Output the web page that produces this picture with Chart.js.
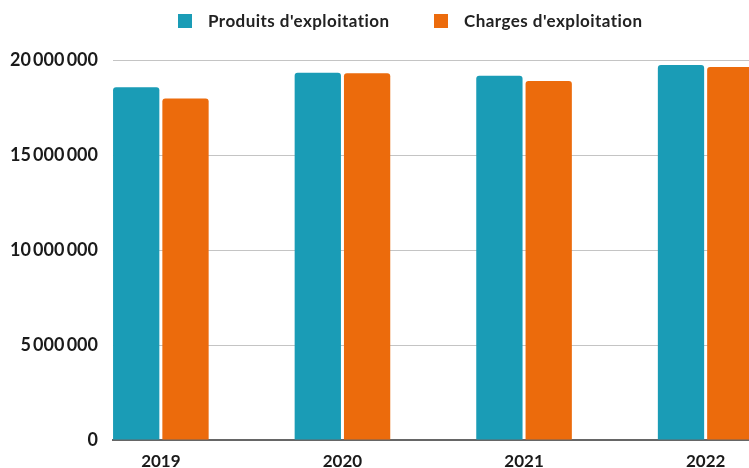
<!DOCTYPE html>
<html>
<head>
<meta charset="utf-8">
<script src="https://cdn.jsdelivr.net/npm/chart.js@4/dist/chart.umd.min.js"></script>
<style>
  html, body { margin: 0; padding: 0; background: #fff; }
  #wrap { position: relative; width: 749px; height: 468px; overflow: hidden; }
  #wrap canvas { display: block; }
  #legend { position: absolute; top: 0; left: 0; width: 749px; height: 40px; }
  .item { position: absolute; top: 10px; display: flex; align-items: center;
          font: bold 17px Lato, sans-serif; letter-spacing: 0.45px; color: #222; white-space: nowrap; }
  .swatch { width: 14px; height: 14px; margin-right: 16px; }
</style>
</head>
<body>
<div id="wrap">
  <canvas id="chart" width="749" height="468"></canvas>
  <div id="legend"></div>
</div>
<script>
// Years on the x axis
const years = ["2019", "2020", "2021", "2022"];

// Series values (euros)
const produits = [18560000, 19330000, 19170000, 19740000];
const charges = [17980000, 19300000, 18890000, 19630000];

const seriesNames = ["Produits d'exploitation", "Charges d'exploitation"];

// y axis ticks
const yTicks = [0, 5000000, 10000000, 15000000, 20000000];

const teal = "#1a9cb6";
const orange = "#ec6b0c";

function formatNumber(v) {
  return String(v).replace(/\B(?=(\d{3})+(?!\d))/g, "\u2009");
}

function toPoints(values) {
  return values.map((v, i) => ({ x: i, y: v }));
}

const ctx = document.getElementById("chart").getContext("2d");
const chart = new Chart(ctx, {
  type: "bar",
  data: {
    datasets: [
      {
        label: seriesNames[0],
        data: toPoints(produits),
        backgroundColor: teal,
        borderRadius: 3,
        categoryPercentage: 0.543,
        barPercentage: 0.939,
      },
      {
        label: seriesNames[1],
        data: toPoints(charges),
        backgroundColor: orange,
        borderRadius: 3,
        categoryPercentage: 0.543,
        barPercentage: 0.939,
      },
    ],
  },
  options: {
    responsive: false,
    animation: false,
    devicePixelRatio: 1,
    layout: { padding: { top: 60, right: 0, left: 0, bottom: 0 } },
    plugins: {
      legend: { display: false },
      tooltip: { enabled: false },
    },
    scales: {
      x: {
        type: "linear",
        offset: false,
        min: -0.2635,
        max: 3.2387,
        afterFit: (scale) => { scale.height = 28; },
        grid: { display: false, offset: false },
        border: { display: true, color: "#666666", width: 2 },
        ticks: {
          stepSize: 1,
          includeBounds: false,
          autoSkip: false,
          maxRotation: 0,
          padding: 3,
          color: "#1a1a1a",
          font: { family: "Lato", size: 17, weight: "bold" },
          callback: (v) => years[v] ?? "",
        },
      },
      y: {
        min: yTicks[0],
        max: yTicks[yTicks.length - 1],
        afterFit: (scale) => { scale.width = 113; },
        afterBuildTicks: (scale) => { scale.ticks = yTicks.map((v) => ({ value: v })); },
        grid: { color: "#c4c4c4", lineWidth: 1, drawTicks: false },
        border: { display: false },
        ticks: {
          padding: 15,
          color: "#1a1a1a",
          font: { family: "Lato", size: 18, weight: "bold" },
          callback: (v) => formatNumber(v),
        },
      },
    },
  },
});

// HTML legend built from the datasets
const legendX = [178, 434];
const legendEl = document.getElementById("legend");
chart.data.datasets.forEach((ds, i) => {
  const item = document.createElement("div");
  item.className = "item";
  item.style.left = legendX[i] + "px";
  const sw = document.createElement("span");
  sw.className = "swatch";
  sw.style.background = ds.backgroundColor;
  const txt = document.createElement("span");
  txt.textContent = ds.label;
  item.appendChild(sw);
  item.appendChild(txt);
  legendEl.appendChild(item);
});
</script>
</body>
</html>
